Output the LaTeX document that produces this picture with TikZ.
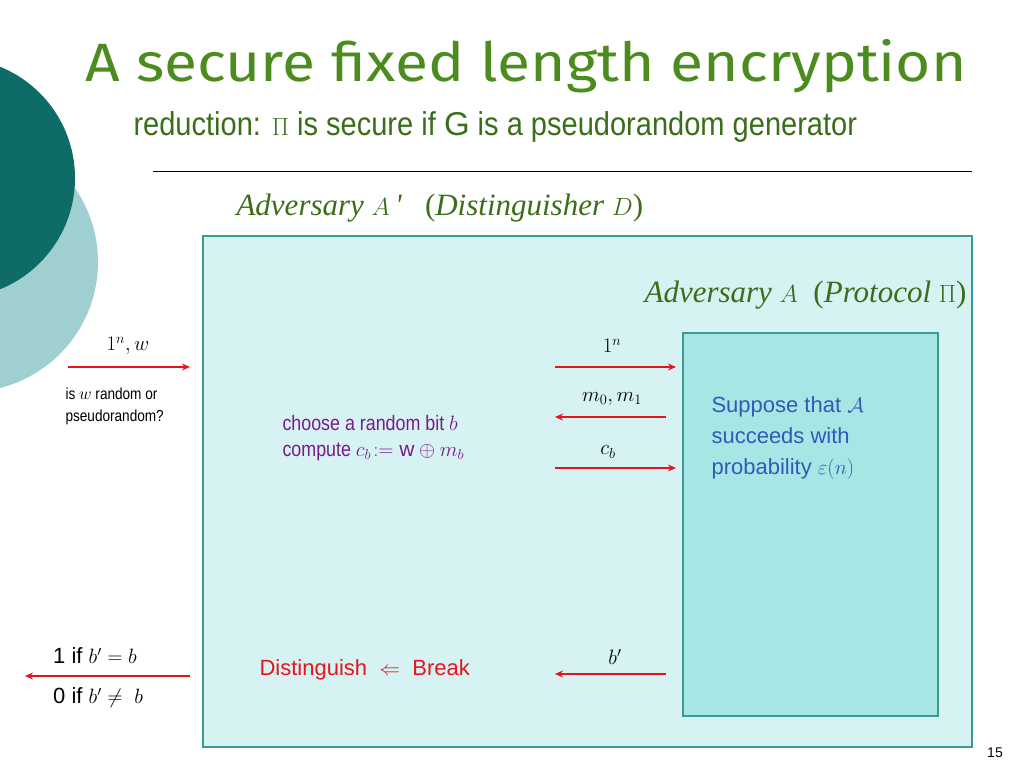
\documentclass[tikz,border=0pt]{standalone}
\usepackage{amsmath,amssymb}
\usepackage{fontspec}
\setmainfont{Liberation Sans}
\newfontfamily\titlefont[FakeStretch=1.12]{Fira Sans}
\newfontfamily\narrowfont[FakeStretch=0.85]{Liberation Sans}
\newfontfamily\subfont[FakeStretch=0.88]{Liberation Sans}
\newfontfamily\serifit{Liberation Serif}[ItalicFont=* Italic]
\usetikzlibrary{arrows.meta}
\definecolor{tgreen}{HTML}{4C8C1E}
\definecolor{sgreen}{HTML}{3B6E1A}
\definecolor{darkteal}{HTML}{0E6B66}
\definecolor{lightteal}{HTML}{9FCFD0}
\definecolor{boxfill}{HTML}{D6F2F2}
\definecolor{innerfill}{HTML}{A8E6E6}
\definecolor{boxline}{HTML}{3A9A94}
\definecolor{rarrow}{HTML}{E8141C}
\definecolor{purp}{HTML}{7A1B8C}
\definecolor{blu}{HTML}{2E5BB8}
\tikzset{
 arr/.style={draw=rarrow,line width=1.3pt,-{Stealth[length=8pt,width=7pt]}},
 lbl/.style={font=\fontsize{22}{26}\selectfont,inner sep=1pt},
 adv/.style={font=\serifit\itshape\fontsize{31}{34}\selectfont,text=sgreen},
}
\begin{document}
\begin{tikzpicture}[x=1pt,y=-1pt]
\useasboundingbox (0,0) rectangle (1024,768);
\fill[lightteal] (-32,262) circle (130);
\fill[darkteal] (-45,178) circle (120);
\node[font=\titlefont\fontsize{54}{58}\selectfont,text=tgreen,anchor=west] (title) at (82,66) {A secure fixed length encryption};
\node[font=\subfont\fontsize{33}{36}\selectfont,text=sgreen,anchor=west] (sub) at (130,127) {reduction: $\Pi$ is secure if $\mathrm{G}$ is a pseudorandom generator};
\draw[line width=0.8pt] (153,171) -- (972,171);
\node[adv,anchor=west] (advp) at (233,208) {Adversary $A$\,'\ \ \ \upshape(\itshape Distinguisher $D$\upshape)};
\draw[boxline,fill=boxfill,line width=1.5pt] (203,236) rectangle (972,747);
\draw[boxline,fill=innerfill,line width=1.5pt] (683,333) rectangle (938,716);
\node[adv,anchor=east] (adva) at (970,295) {Adversary $A$ \ \upshape(\itshape Protocol \upshape$\Pi$)};
% input left
\coordinate (i1) at (68,367); \coordinate (i2) at (190,367);
\draw[arr] (i1) -- (i2);
\node[lbl] (l1) at (128,346) {$1^n, w$};
\node[font=\narrowfont\fontsize{16}{22}\selectfont,align=left,anchor=west] (q) at (62,406) {is $w$ random or\\pseudorandom?};
% right arrows
\coordinate (a1) at (555,367); \coordinate (a2) at (676,367);
\draw[arr] (a1) -- (a2);
\node[lbl] (n1) at (612,346) {$1^n$};
\coordinate (b1) at (666,417); \coordinate (b2) at (555,417);
\draw[arr] (b1) -- (b2);
\node[lbl] (n2) at (612,399) {$m_0, m_1$};
\coordinate (c1) at (555,468); \coordinate (c2) at (676,468);
\draw[arr] (c1) -- (c2);
\node[lbl] (n3) at (608,452) {$c_b$};
\coordinate (d1) at (666,674); \coordinate (d2) at (555,674);
\draw[arr] (d1) -- (d2);
\node[lbl] (n4) at (615,657) {$b'$};
\node[font=\narrowfont\fontsize{21}{26}\selectfont,text=purp,align=left,anchor=west] (ch) at (279,438) {choose a random bit $b$\\compute $c_b\!:=\mathrm{w}\oplus m_b$};
\node[font=\fontsize{22}{31}\selectfont,text=blu,align=left,anchor=north west] (sup) at (708,393) {Suppose that $\mathcal{A}$\\succeeds with\\probability $\varepsilon(n)$};
\node[font=\fontsize{22}{26}\selectfont,text=rarrow,anchor=west] (dist) at (256,670) {Distinguish \ $\Leftarrow$ \ Break};
% output left
\coordinate (o1) at (190,676); \coordinate (o2) at (25,676);
\draw[arr] (o1) -- (o2);
\node[lbl,anchor=west] (r1) at (52,656) {1 if $b'=b$};
\node[lbl,anchor=west] (r2) at (52,698) {0 if $b'\neq\ b$};
\node[font=\fontsize{14}{16}\selectfont] (pg) at (995,753) {15};
\end{tikzpicture}
\end{document}
